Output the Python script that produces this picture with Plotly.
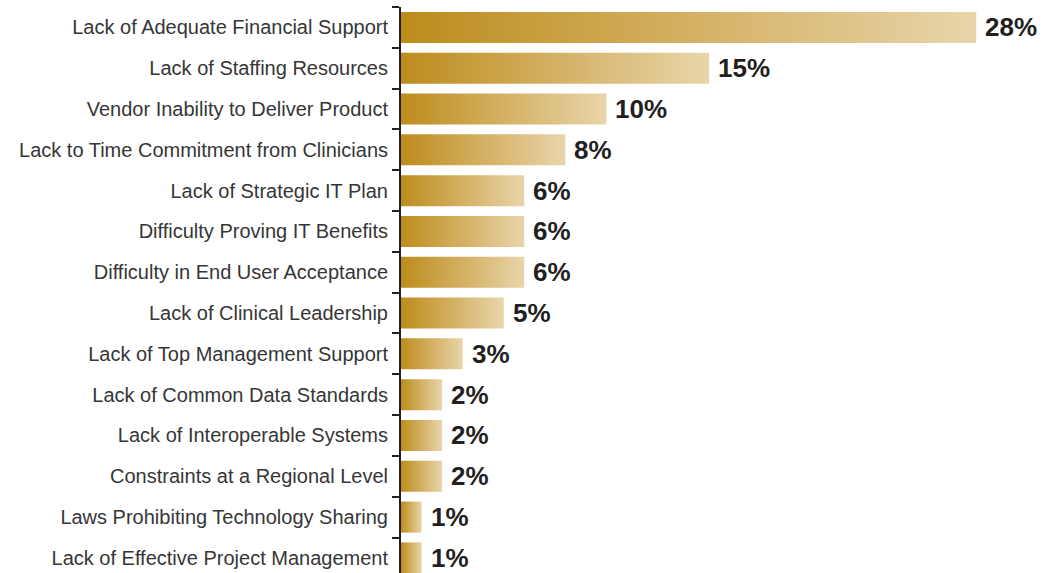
import plotly.graph_objects as go

categories = [
    "Lack of Adequate Financial Support",
    "Lack of Staffing Resources",
    "Vendor Inability to Deliver Product",
    "Lack to Time Commitment from Clinicians",
    "Lack of Strategic IT Plan",
    "Difficulty Proving IT Benefits",
    "Difficulty in End User Acceptance",
    "Lack of Clinical Leadership",
    "Lack of Top Management Support",
    "Lack of Common Data Standards",
    "Lack of Interoperable Systems",
    "Constraints at a Regional Level",
    "Laws Prohibiting Technology Sharing",
    "Lack of Effective Project Management",
]
values = [28, 15, 10, 8, 6, 6, 6, 5, 3, 2, 2, 2, 1, 1]

gold_scale = [[0, "#bc8c1c"], [0.5, "#d4b063"], [1, "#e8d5aa"]]
half = 0.38

fig = go.Figure()
for i, (cat, v) in enumerate(zip(categories, values)):
    # each bar is a filled rectangle so it can carry its own left-to-right gradient
    fig.add_trace(go.Scatter(
        x=[0, v, v, 0, 0],
        y=[i - half, i - half, i + half, i + half, i - half],
        mode="lines",
        fill="toself",
        fillgradient=dict(type="horizontal", colorscale=gold_scale),
        line=dict(width=0, color="rgba(0,0,0,0)"),
        hoverinfo="skip",
        showlegend=False,
        name=cat,
    ))
    fig.add_annotation(
        x=v, y=i, text=f"{v}%", showarrow=False,
        xanchor="left", yanchor="middle", xshift=7,
        font=dict(size=26, color="#231f20",
                  family="Liberation Sans, Arial, Helvetica, sans-serif",
                  weight="bold"),
    )

fig.update_layout(
    width=1042, height=573,
    margin=dict(l=401, r=0, t=7, b=0),
    plot_bgcolor="white", paper_bgcolor="white",
    font=dict(family="Liberation Sans, Arial, Helvetica, sans-serif", size=20, color="#363636"),
    xaxis=dict(range=[0, 31.2], showgrid=False, zeroline=False,
               showticklabels=False, showline=False, fixedrange=True),
    yaxis=dict(
        range=[13.37, -0.5],
        tickmode="array",
        tickvals=list(range(len(categories))),
        ticktext=categories,
        ticks="",
        ticklabelstandoff=7,
        showgrid=False, zeroline=False,
        showline=True, linecolor="#231f20", linewidth=2,
        automargin=False, fixedrange=True,
        minor=dict(tickmode="array",
                   tickvals=[k - 0.5 for k in range(len(categories))],
                   ticks="outside", ticklen=7, tickwidth=1.5,
                   tickcolor="#231f20", showgrid=False),
    ),
)

# drop the browser's default body margin so the figure sits at the page corner
fig.write_html("out.html", config={"displayModeBar": False},
               post_script="document.body.style.margin='0';")
